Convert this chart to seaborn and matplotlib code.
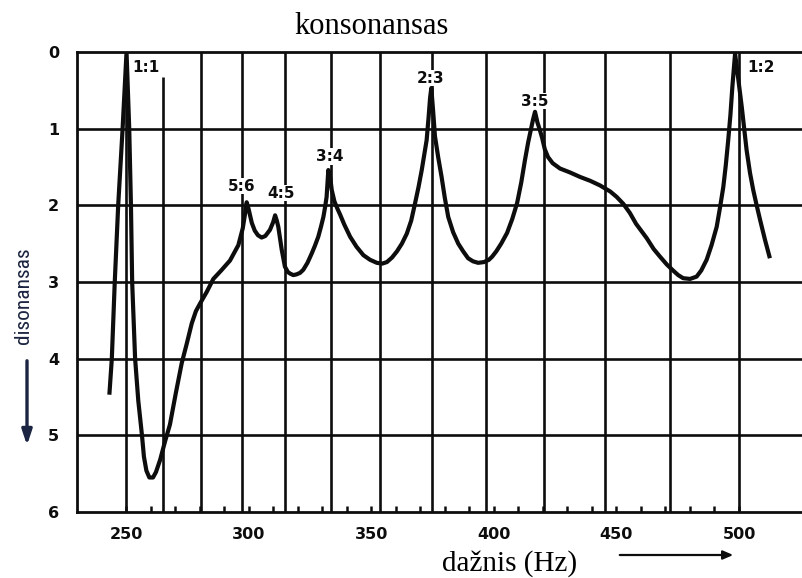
import matplotlib
matplotlib.use("Agg")
import matplotlib.pyplot as plt
import seaborn as sns
import pandas as pd
from matplotlib import font_manager

# Dissonance curve of two tones, lower tone fixed at 250 Hz
freq_hz = [
    243.2, 244.2, 245.4, 246.8, 248.6, 250.2, 251.3, 252.0, 252.5, 253.7,
    255.0, 256.5, 257.3, 258.3, 259.5, 261.0, 262.2, 263.9, 265.9, 267.9,
    270.3, 272.7, 274.8, 276.8, 278.5, 280.2, 282.9, 285.6, 288.8, 292.4,
    295.8, 297.6, 298.6, 299.2, 300.0, 301.3, 302.5, 303.8, 305.3, 306.8,
    308.7, 310.0, 310.8, 311.5, 312.1, 312.8, 313.5, 314.8, 316.0, 316.9,
    318.2, 319.6, 321.0, 322.3, 324.0, 325.7, 327.0, 328.4, 329.5, 330.5,
    331.2, 331.8, 332.5, 333.2, 333.9, 335.0, 336.3, 337.3, 339.0, 341.4,
    344.0, 346.8, 349.5, 352.3, 354.5, 356.4, 358.5, 360.5, 362.5, 364.5,
    366.3, 367.9, 369.3, 370.6, 371.7, 372.6, 373.4, 374.0, 374.5, 375.2,
    376.0, 377.3, 378.7, 380.0, 381.4, 383.4, 385.5, 387.5, 389.5, 391.5,
    393.6, 396.0, 398.0, 399.3, 401.0, 403.0, 405.4, 407.5, 409.5, 411.2,
    412.7, 414.0, 415.2, 416.0, 416.8, 417.8, 418.8, 419.7, 420.8, 422.1,
    424.0, 427.0, 431.0, 435.2, 439.3, 443.3, 447.5, 450.1, 452.8, 455.5,
    458.0, 460.3, 462.4, 465.2, 467.8, 470.5, 473.1, 475.2, 477.2, 480.0,
    482.7, 484.6, 486.8, 488.8, 490.9, 492.3, 493.6, 494.6, 495.6, 496.5,
    497.3, 498.4, 499.5, 500.4, 501.1, 503.1, 504.5, 505.8, 507.2, 508.6,
    510.6, 512.6,
]
dissonance = [
    4.47, 4.00, 3.00, 2.00, 1.00, 0.00, 1.00, 2.00, 3.00, 4.00,
    4.55, 5.00, 5.28, 5.46, 5.55, 5.55, 5.48, 5.32, 5.08, 4.86,
    4.45, 4.06, 3.80, 3.54, 3.38, 3.28, 3.13, 2.96, 2.85, 2.72,
    2.52, 2.30, 2.10, 1.96, 2.05, 2.23, 2.33, 2.39, 2.42, 2.40,
    2.32, 2.22, 2.13, 2.20, 2.28, 2.43, 2.58, 2.80, 2.87, 2.89,
    2.91, 2.90, 2.88, 2.84, 2.75, 2.63, 2.53, 2.41, 2.28, 2.15,
    2.02, 1.89, 1.54, 1.62, 1.80, 1.95, 2.05, 2.12, 2.25, 2.41,
    2.54, 2.65, 2.71, 2.75, 2.76, 2.74, 2.68, 2.60, 2.50, 2.37,
    2.20, 1.97, 1.76, 1.54, 1.33, 1.15, 0.85, 0.60, 0.47, 0.75,
    1.10, 1.37, 1.63, 1.90, 2.15, 2.35, 2.50, 2.60, 2.69, 2.73,
    2.75, 2.74, 2.71, 2.67, 2.60, 2.50, 2.36, 2.18, 1.97, 1.70,
    1.41, 1.18, 1.00, 0.88, 0.78, 0.92, 1.02, 1.12, 1.27, 1.37,
    1.45, 1.52, 1.57, 1.63, 1.68, 1.74, 1.82, 1.89, 1.98, 2.10,
    2.24, 2.34, 2.43, 2.57, 2.67, 2.77, 2.85, 2.91, 2.95, 2.96,
    2.93, 2.85, 2.71, 2.52, 2.28, 2.02, 1.76, 1.48, 1.15, 0.82,
    0.45, 0.02, 0.30, 0.54, 0.71, 1.28, 1.58, 1.80, 2.00, 2.19,
    2.45, 2.69,
]

# Interval names placed above the consonant peaks
ratio_labels = ["1:1", "5:6", "4:5", "3:4", "2:3", "3:5", "1:2"]
ratio_label_hz = [258.2, 297.3, 313.2, 333.2, 374.4, 416.8, 509.0]
ratio_label_level = [0.20, 1.75, 1.84, 1.36, 0.34, 0.64, 0.20]

# Equal-tempered semitones from 250 Hz to 500 Hz (vertical grid)
semitone_hz = [250.0, 264.9, 280.6, 297.3, 315.0, 333.7, 353.6,
               374.6, 396.9, 420.4, 445.4, 471.9, 500.0]
semitone_top = [0.0, 0.32, 0.0, 0.0, 0.0, 0.0, 0.0,
                0.0, 0.0, 0.0, 0.0, 0.0, 0.0]

x_ticks = [250, 300, 350, 400, 450, 500]
x_minor_ticks = list(range(250, 501, 10))
y_ticks = [0, 1, 2, 3, 4, 5, 6]

df = pd.DataFrame({"freq": freq_hz, "dissonance": dissonance})

sns.set_theme(style="white")
plt.rcParams["font.family"] = ["DejaVu Sans"]

W, H = 803, 578
fig = plt.figure(figsize=(W / 100, H / 100), dpi=100)
fig.patch.set_facecolor("white")
ax_left, ax_bottom, ax_top = 77 / W, 1 - 512 / H, 1 - 52 / H
ax = fig.add_axes([ax_left, ax_bottom, 1 - ax_left, ax_top - ax_bottom])
ax.set_facecolor("white")

ink = "#0d0d0d"

# grid
for lvl in y_ticks[1:-1]:
    ax.axhline(lvl, color=ink, lw=1.9, zorder=1)
ax.vlines(semitone_hz, [6] * len(semitone_hz), semitone_top,
          color=ink, lw=1.9, zorder=1)

sns.lineplot(data=df, x="freq", y="dissonance", ax=ax, color=ink,
             lw=3.0, sort=False, estimator=None, zorder=3,
             solid_capstyle="butt")

for lab, hx, lv in zip(ratio_labels, ratio_label_hz, ratio_label_level):
    ax.text(hx, lv, lab, ha="center", va="center", fontsize=11,
            fontweight="bold", color=ink, zorder=4,
            bbox=dict(boxstyle="square,pad=0.05", fc="white", ec="none"))

ax.set_xlim(230.0, 526.1)
ax.set_ylim(6, 0)
ax.set_xticks(x_ticks)
ax.set_xticks(x_minor_ticks, minor=True)
ax.set_yticks(y_ticks)
ax.set_xticklabels([str(t) for t in x_ticks], fontsize=11.5, fontweight="bold")
ax.set_yticklabels([str(t) for t in y_ticks], fontsize=11.5, fontweight="bold")
ax.tick_params(axis="x", which="both", direction="in", length=4, width=1.8,
               color=ink, pad=11, bottom=True, labelcolor=ink)
ax.tick_params(axis="y", which="both", length=0, pad=13, labelcolor=ink)
ax.set_xlabel("")
ax.set_ylabel("")
for side in ("left", "top", "bottom"):
    ax.spines[side].set_visible(True)
    ax.spines[side].set_color(ink)
    ax.spines[side].set_linewidth(2.0)
ax.spines["right"].set_visible(False)

# titles
fig.text(372 / W, 1 - 34 / H, "konsonansas", family="Liberation Serif",
         fontsize=22, ha="center", va="baseline", color="black")
fig.text(510 / W, 1 - 571 / H, "dažnis (Hz)", family="Liberation Serif",
         fontsize=21, ha="center", va="baseline", color="black")
fig.add_artist(matplotlib.patches.FancyArrowPatch(
    (617 / W, 1 - 555 / H), (736 / W, 1 - 555 / H),
    transform=fig.transFigure, arrowstyle="-|>,head_length=6,head_width=2.6",
    lw=1.6, color=ink, mutation_scale=1))

# vertical axis caption in a narrow face, with a downward arrow
names = {f.name for f in font_manager.fontManager.ttflist}
narrow = next((n for n in ["Liberation Sans Narrow", "Arial Narrow",
                           "Roboto Condensed", "Open Sans Condensed"]
               if n in names), None)
ylab_kw = dict(family=narrow) if narrow else dict(family="DejaVu Sans",
                                                   fontstretch="condensed")
ylab = fig.text(24 / W, 1 - 296 / H, "disonansas", rotation=90,
                ha="center", va="center", fontsize=16, color="#1b2440",
                **ylab_kw)
fig.canvas.draw()
bb = ylab.get_window_extent()
ylab.set_fontsize(16 * 97 / bb.height)
fig.add_artist(matplotlib.patches.FancyArrowPatch(
    (27 / W, 1 - 358 / H), (27 / W, 1 - 448 / H),
    transform=fig.transFigure, arrowstyle="-|>,head_length=9,head_width=3",
    lw=2.4, color="#1b2440", mutation_scale=1))

fig.savefig("out.png", dpi=100, facecolor="white")
